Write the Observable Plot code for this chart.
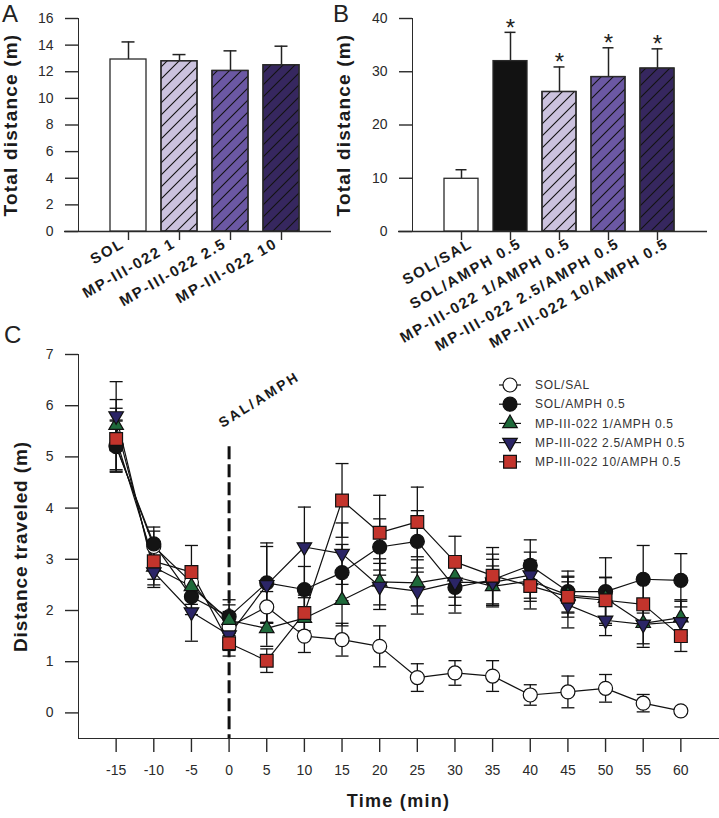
<!DOCTYPE html>
<html><head><meta charset="utf-8">
<script src="https://cdn.jsdelivr.net/npm/d3@7"></script>
<script src="https://cdn.jsdelivr.net/npm/@observablehq/plot@0.6"></script>
<style>
body{margin:0;background:#fff;}
#root{position:relative;width:719px;height:818px;overflow:hidden;background:#fff;font-family:"Liberation Sans",Arial,sans-serif;}
</style></head>
<body><div id="root">
<svg width="0" height="0" style="position:absolute"><defs>
<pattern id="hatch" patternUnits="userSpaceOnUse" width="12" height="12">
<path d="M-1,1 l2,-2 M0,12 l12,-12 M11,13 l2,-2" stroke="#111" stroke-width="1.1" fill="none"/>
</pattern></defs></svg>
</div>
<script>
// ---------- DATA ----------
// Panel A
const catsA = ["SOL", "MP-III-022 1", "MP-III-022 2.5", "MP-III-022 10"];
const meanA = [12.92, 12.79, 12.06, 12.49];
const semA  = [1.32, 0.50, 1.51, 1.43];
const yTicksA = [0, 2, 4, 6, 8, 10, 12, 14, 16];

// Panel B
const catsB = ["SOL/SAL", "SOL/AMPH 0.5", "MP-III-022 1/AMPH 0.5", "MP-III-022 2.5/AMPH 0.5", "MP-III-022 10/AMPH 0.5"];
const meanB = [9.9, 32.0, 26.2, 29.0, 30.6];
const semB  = [1.7, 5.4, 4.7, 5.5, 3.7];
const sigB  = [false, true, true, true, true];
const yTicksB = [0, 10, 20, 30, 40];

// Panel C
const times = [-15, -10, -5, 0, 5, 10, 15, 20, 25, 30, 35, 40, 45, 50, 55, 60];
const seriesC = ["SOL/SAL", "SOL/AMPH 0.5", "MP-III-022 1/AMPH 0.5", "MP-III-022 2.5/AMPH 0.5", "MP-III-022 10/AMPH 0.5"];
const meanSolSal  = [5.22, 3.25, 2.55, 1.68, 2.07, 1.50, 1.43, 1.30, 0.69, 0.78, 0.72, 0.35, 0.41, 0.48, 0.19, 0.04];
const semSolSal   = [0.50, 0.30, 0.30, 0.30, 0.30, 0.32, 0.32, 0.40, 0.27, 0.24, 0.30, 0.20, 0.31, 0.27, 0.17, 0.05];
const meanSolAmph = [5.20, 3.30, 2.27, 1.88, 2.54, 2.41, 2.74, 3.24, 3.35, 2.45, 2.60, 2.88, 2.37, 2.37, 2.61, 2.59];
const semSolAmph  = [0.50, 0.33, 0.35, 0.33, 0.78, 0.45, 0.55, 0.55, 0.60, 0.50, 0.50, 0.50, 0.40, 0.66, 0.66, 0.52];
const meanMp1     = [5.62, 2.85, 2.47, 1.81, 1.65, 1.85, 2.20, 2.56, 2.54, 2.66, 2.47, 2.58, 2.30, 2.24, 1.75, 1.86];
const semMp1      = [0.50, 0.35, 0.35, 0.30, 0.35, 0.40, 0.50, 0.45, 0.45, 0.40, 0.40, 0.40, 0.35, 0.40, 0.40, 0.35];
const meanMp25    = [5.80, 2.75, 1.97, 1.52, 2.50, 3.24, 3.11, 2.47, 2.38, 2.55, 2.55, 2.69, 2.11, 1.81, 1.73, 1.78];
const semMp25     = [0.67, 0.30, 0.57, 0.30, 0.75, 0.78, 0.60, 0.45, 0.45, 0.45, 0.45, 0.45, 0.45, 0.30, 0.45, 0.40];
const meanMp10    = [5.35, 2.96, 2.75, 1.36, 1.02, 1.95, 4.15, 3.52, 3.73, 2.95, 2.68, 2.48, 2.27, 2.20, 2.12, 1.50];
const semMp10     = [0.60, 0.35, 0.52, 0.25, 0.23, 0.35, 0.72, 0.73, 0.68, 0.50, 0.55, 0.45, 0.40, 0.45, 0.45, 0.30];
const meansC = [meanSolSal, meanSolAmph, meanMp1, meanMp25, meanMp10];
const semsC  = [semSolSal, semSolAmph, semMp1, semMp25, semMp10];
const yTicksC = [0, 1, 2, 3, 4, 5, 6, 7];
const eventTime = 0, eventLabel = "SAL/AMPH";

// ---------- STYLES ----------
const FONT = "Liberation Sans, Arial, sans-serif";
const barFill = {
  "SOL": "#ffffff", "SOL/SAL": "#ffffff", "SOL/AMPH 0.5": "#121212",
  "MP-III-022 1": "#cbc2de", "MP-III-022 1/AMPH 0.5": "#cbc2de",
  "MP-III-022 2.5": "#6b58a3", "MP-III-022 2.5/AMPH 0.5": "#6b58a3",
  "MP-III-022 10": "#36275f", "MP-III-022 10/AMPH 0.5": "#36275f"
};
const barHatch = c => c.startsWith("MP-");
const markerStyle = [
  {symbol: "circle", fill: "#ffffff", r: 7, rotate: 0},
  {symbol: "circle", fill: "#141414", r: 7, rotate: 0},
  {symbol: "triangle", fill: "#1f6a3b", r: 5.4, rotate: 0},
  {symbol: "triangle", fill: "#2b2566", r: 5.4, rotate: 180},
  {symbol: "square", fill: "#c3342c", r: 7.2, rotate: 0}
];

const root = document.getElementById("root");
function place(el, left, top) {
  el.style.position = "absolute"; el.style.left = left + "px"; el.style.top = top + "px";
  root.appendChild(el);
}
function spacing(svg, map) {
  svg.querySelectorAll("g[font-weight='bold']").forEach(g => {
    const fs = g.getAttribute("font-size");
    if (map[fs] != null) g.setAttribute("letter-spacing", map[fs]);
  });
  svg.querySelectorAll("g[aria-label^='x-axis'], g[aria-label^='y-axis']").forEach(g => g.setAttribute("stroke-width", 1.4));
}
const baseStyle = {background: "transparent", fontFamily: FONT, fontSize: "14px", color: "#2a2a2a", overflow: "visible"};

function barPanel({cats, means, sems, sig, yMax, yTicks, width, height, marginLeft, marginRight, paddingInner, paddingOuter, labelDx, ylabelDx}) {
  const data = cats.map((c, i) => ({cat: c, mean: means[i], top: means[i] + sems[i], sig: sig ? sig[i] : false, fill: barFill[c], hatch: barHatch(c)}));
  const svg = Plot.plot({
    width, height, marginTop: 18, marginBottom: height - 231, marginLeft, marginRight,
    style: baseStyle,
    x: {domain: cats, paddingInner, paddingOuter, tickSize: 9, tickFormat: () => "", label: null},
    y: {domain: [0, yMax], ticks: yTicks, tickSize: 13, tickPadding: 12, line: true, label: null},
    color: {type: "identity"},
    marks: [
      Plot.ruleY([0], {stroke: "#2a2a2a", strokeWidth: 1.4, insetLeft: -14}),
      Plot.ruleX(data, {x: "cat", y1: "mean", y2: "top", stroke: "#222", strokeWidth: 1.5}),
      Plot.tickY(data, {x: "cat", y: "top", stroke: "#222", strokeWidth: 1.5, inset: 11.5}),
      Plot.barY(data, {x: "cat", y: "mean", fill: "fill", stroke: "#2a2a2a", strokeWidth: 1.3}),
      Plot.barY(data.filter(d => d.hatch), {x: "cat", y: "mean", fill: "url(#hatch)", stroke: "#2a2a2a", strokeWidth: 1.3}),
      Plot.text(data.filter(d => d.sig), {x: "cat", y: "top", text: () => "*", fontSize: 24, dy: -4.5, fill: "#222"}),
      Plot.text(data, {x: "cat", text: "cat", frameAnchor: "bottom", dy: 15, dx: labelDx, rotate: -30, textAnchor: "end", fontWeight: "bold", fontSize: 15, fill: "#1a1a1a"}),
      Plot.text(["Total distance (m)"], {text: d => d, frameAnchor: "left", textAnchor: "middle", dx: ylabelDx, rotate: -90, fontWeight: "bold", fontSize: 19, fill: "#1a1a1a"})
    ]
  });
  spacing(svg, {"15": 1.8, "19": 1.2});
  return svg;
}

// ---------- PANEL C ----------
const rowsC = [];
seriesC.forEach((s, k) => times.forEach((t, i) => rowsC.push({series: s, k, t, v: meansC[k][i], e: semsC[k][i]})));
const capsC = rowsC.flatMap(d => [{t: d.t, y: d.v - d.e}, {t: d.t, y: d.v + d.e}]);
const capSymbol = {draw(ctx) { ctx.moveTo(-6.5, 0); ctx.lineTo(6.5, 0); }};

const svgC = Plot.plot({
  width: 719, height: 478, marginTop: 14, marginBottom: 80, marginLeft: 78, marginRight: 1,
  style: baseStyle,
  x: {domain: [-20, 65], ticks: times, tickFormat: d => String(d), tickSize: 14, tickPadding: 13, line: true, label: null},
  y: {domain: [-0.5, 7], ticks: yTicksC, tickSize: 13, tickPadding: 12, line: true, label: null},
  marks: [
    Plot.ruleX([eventTime], {y1: 5.2, y2: -0.5, stroke: "#111", strokeWidth: 3, strokeDasharray: "13,5"}),
    Plot.text([{t: eventTime, y: 5.64}], {x: "t", y: "y", text: () => eventLabel, dx: -9, rotate: -32, textAnchor: "start", fontWeight: "bold", fontSize: 14, fill: "#1a1a1a"}),
    Plot.ruleX(rowsC, {x: "t", y1: d => d.v - d.e, y2: d => d.v + d.e, stroke: "#111", strokeWidth: 1.3}),
    Plot.dot(capsC, {x: "t", y: "y", symbol: capSymbol, r: 3, fill: "none", stroke: "#111", strokeWidth: 1.3}),
    Plot.line(rowsC, {x: "t", y: "v", z: "series", stroke: "#111", strokeWidth: 1.2}),
    ...seriesC.map((s, k) => Plot.dot(rowsC.filter(d => d.k === k), {x: "t", y: "v", symbol: markerStyle[k].symbol, r: markerStyle[k].r, rotate: markerStyle[k].rotate, fill: markerStyle[k].fill, stroke: "#111", strokeWidth: 1.2})),
    Plot.text(["Distance traveled (m)"], {text: d => d, frameAnchor: "left", textAnchor: "middle", dx: -58, rotate: -90, fontWeight: "bold", fontSize: 19, fill: "#1a1a1a"}),
    Plot.text(["Time (min)"], {text: d => d, frameAnchor: "bottom", textAnchor: "middle", dy: 68, fontWeight: "bold", fontSize: 18, fill: "#1a1a1a"})
  ]
});
spacing(svgC, {"19": 0.9, "18": 1.3, "14": 2.4});
place(svgC, 0, 340);

const svgA = barPanel({cats: catsA, means: meanA, sems: semA, yMax: 16, yTicks: yTicksA, width: 340, height: 330,
  marginLeft: 78, marginRight: 9, paddingInner: 0.29, paddingOuter: 0.625, labelDx: -3, ylabelDx: -68});
place(svgA, 0, 0);
const svgB = barPanel({cats: catsB, means: meanB, sems: semB, sig: sigB, yMax: 40, yTicks: yTicksB, width: 389, height: 360,
  marginLeft: 82, marginRight: 12, paddingInner: 0.296, paddingOuter: 0.619, labelDx: 12, ylabelDx: -69});
place(svgB, 330, 0);

// ---------- overlay: panel letters + legend ----------
const ov = d3.create("svg").attr("width", 719).attr("height", 818).style("pointer-events", "none");
[["A", 2, 22], ["B", 333, 22], ["C", 4, 343]].forEach(([t, x, y]) =>
  ov.append("text").attr("x", x).attr("y", y).attr("font-family", FONT).attr("font-size", 24).attr("fill", "#222").text(t));
const lg = ov.append("g");
seriesC.forEach((s, k) => {
  const y = 385 + k * 19.2, st = markerStyle[k];
  lg.append("line").attr("x1", 499).attr("x2", 521).attr("y1", y).attr("y2", y).attr("stroke", "#111").attr("stroke-width", 1.2);
  const type = {circle: d3.symbolCircle, triangle: d3.symbolTriangle, square: d3.symbolSquare}[st.symbol];
  lg.append("path").attr("d", d3.symbol(type, Math.PI * st.r * st.r)()).attr("transform", `translate(510,${y}) rotate(${st.rotate})`)
    .attr("fill", st.fill).attr("stroke", "#111").attr("stroke-width", 1.2);
  lg.append("text").attr("x", 535).attr("y", y).attr("dy", "0.35em").attr("font-family", FONT).attr("font-size", 12)
    .attr("letter-spacing", 0.7).attr("fill", "#333").text(s);
});
place(ov.node(), 0, 0);
</script>
</body></html>
